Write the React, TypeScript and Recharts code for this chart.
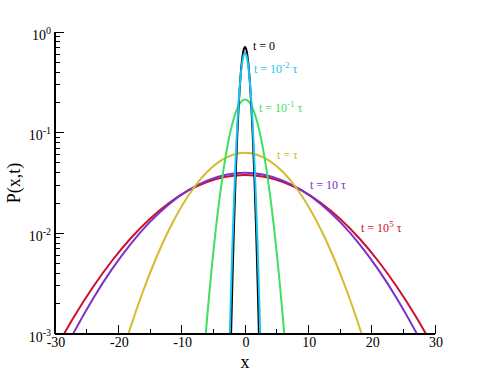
import React from 'react';
import { LineChart, Line, XAxis, YAxis, ReferenceDot, Label } from 'recharts';

// ---- data ----
const xT0 = [-2.25, -2, -1.75, -1.5, -1.25, -1, -0.75, -0.5, -0.25, 0, 0.25, 0.5, 0.75, 1, 1.25, 1.5, 1.75, 2, 2.25];
const pT0 = [0.000741, 0.00313, 0.01115, 0.0336, 0.0853, 0.183, 0.331, 0.506, 0.652, 0.71, 0.652, 0.506, 0.331, 0.183, 0.0853, 0.0336, 0.01115, 0.00313, 0.000741];

const xT2 = [-2.5, -2.25, -2, -1.75, -1.5, -1.25, -1, -0.75, -0.5, -0.25, 0, 0.25, 0.5, 0.75, 1, 1.25, 1.5, 1.75, 2, 2.25, 2.5];
const pT2 = [0.000579, 0.00218, 0.00713, 0.0203, 0.0503, 0.1084, 0.203, 0.331, 0.469, 0.578, 0.62, 0.578, 0.469, 0.331, 0.203, 0.1084, 0.0503, 0.0203, 0.00713, 0.00218, 0.000579];

const xT1 = [-6.5, -6, -5.5, -5, -4.5, -4, -3.5, -3, -2.5, -2, -1.5, -1, -0.5, 0, 0.5, 1, 1.5, 2, 2.5, 3, 3.5, 4, 4.5, 5, 5.5, 6, 6.5];
const pT1 = [0.000588, 0.001406, 0.003138, 0.00653, 0.01267, 0.02293, 0.0387, 0.0609, 0.0894, 0.1224, 0.1563, 0.1862, 0.2066, 0.214, 0.2066, 0.1862, 0.1563, 0.1224, 0.0894, 0.0609, 0.0387, 0.02293, 0.01267, 0.00653, 0.003138, 0.001406, 0.000588];

const xTau = [-20, -18, -16, -14, -12, -10, -8, -6, -4, -2, 0, 2, 4, 6, 8, 10, 12, 14, 16, 18, 20];
const pTau = [0.000477, 0.001206, 0.002767, 0.005755, 0.01086, 0.01858, 0.02884, 0.0406, 0.0518, 0.06, 0.063, 0.06, 0.0518, 0.0406, 0.02884, 0.01858, 0.01086, 0.005755, 0.002767, 0.001206, 0.000477];

const xT10 = [-30, -27, -24, -21, -18, -15, -12, -9, -6, -3, 0, 3, 6, 9, 12, 15, 18, 21, 24, 27, 30];
const pT10 = [0.000444, 0.001044, 0.002244, 0.004406, 0.00791, 0.01298, 0.01946, 0.02668, 0.0334, 0.03824, 0.04, 0.03824, 0.0334, 0.02668, 0.01946, 0.01298, 0.00791, 0.004406, 0.002244, 0.001044, 0.000444];

const xT5 = [-30, -27, -24, -21, -18, -15, -12, -9, -6, -3, 0, 3, 6, 9, 12, 15, 18, 21, 24, 27, 30];
const pT5 = [0.000692, 0.001482, 0.002928, 0.00534, 0.00899, 0.01396, 0.02003, 0.02651, 0.03238, 0.03652, 0.038, 0.03652, 0.03238, 0.02651, 0.02003, 0.01396, 0.00899, 0.00534, 0.002928, 0.001482, 0.000692];

// ---- ticks ----
const xMajorTicks = [-30, -20, -10, 0, 10, 20, 30];
const xMinorTicks = [-25, -15, -5, 5, 15, 25];
const xTickLabels = ['-30', '-20', '-10', '0', '10', '20', '30'];
const yMajorTicks = [0.001, 0.01, 0.1, 1];
const yMajorExponents = ['-3', '-2', '-1', '0'];
const yMinorTicks = [
  0.002, 0.003, 0.004, 0.005, 0.006, 0.007, 0.008, 0.009,
  0.02, 0.03, 0.04, 0.05, 0.06, 0.07, 0.08, 0.09,
  0.2, 0.3, 0.4, 0.5, 0.6, 0.7, 0.8, 0.9,
];

const xTicks = [...xMajorTicks, ...xMinorTicks].sort((a, b) => a - b);
const yTicks = [...yMajorTicks, ...yMinorTicks].sort((a, b) => a - b);

const zip = (xs: number[], ps: number[]) => xs.map((x, i) => ({ x, p: ps[i] }));

const FONT = 'Liberation Serif, Tinos, Times New Roman, DejaVu Serif, serif';
const MAJOR = 9;
const MINOR = 5;

const isXMajor = (v: number) => xMajorTicks.indexOf(v) >= 0;
const isYMajor = (v: number) => yMajorTicks.some((t) => Math.abs(t - v) < 1e-12);

const txt = { fontFamily: FONT };

const BottomTick = (props: any) => {
  const { x, y, payload } = props;
  const v = payload.value;
  const major = isXMajor(v);
  const idx = xMajorTicks.indexOf(v);
  return (
    <g>
      <line x1={x} x2={x} y1={y} y2={y - (major ? MAJOR : MINOR)} stroke="#000" strokeWidth={1} shapeRendering="crispEdges" />
      {major && (
        <text x={x + 1} y={y + 13} textAnchor="middle" style={txt} fontSize={14} fill="#000">
          {xTickLabels[idx]}
        </text>
      )}
    </g>
  );
};

const TopTick = (props: any) => {
  const { x, y, payload } = props;
  const major = isXMajor(payload.value);
  return <line x1={x} x2={x} y1={y} y2={y + (major ? MAJOR : 7)} stroke="#000" strokeWidth={1} shapeRendering="crispEdges" />;
};

const LeftTick = (props: any) => {
  const { x, y, payload } = props;
  const v = payload.value;
  const major = isYMajor(v);
  const idx = yMajorTicks.findIndex((t) => Math.abs(t - v) < 1e-12);
  return (
    <g>
      <line x1={x} x2={x + (major ? MAJOR : MINOR)} y1={y} y2={y} stroke="#000" strokeWidth={1} shapeRendering="crispEdges" />
      {major && (
        <text x={x - 4} y={y + 7.5} textAnchor="end" style={txt} fontSize={14} fill="#000">
          10
          <tspan dy={-6} fontSize={10}>{yMajorExponents[idx]}</tspan>
        </text>
      )}
    </g>
  );
};

const RightTick = (props: any) => {
  const { x, y, payload } = props;
  const major = isYMajor(payload.value);
  return <line x1={x - (major ? MAJOR : MINOR)} x2={x} y1={y} y2={y} stroke="#000" strokeWidth={1} shapeRendering="crispEdges" />;
};

const renderYTitle = (props: any) => {
  const vb = props.viewBox || props;
  const cx = vb.x + 14;
  const cy = vb.y + vb.height / 2;
  return (
    <text x={cx} y={cy} transform={`rotate(-90, ${cx}, ${cy})`} textAnchor="middle" dominantBaseline="central" style={txt} fontSize={18} fill="#000">
      P(x,t)
    </text>
  );
};

const renderXTitle = (props: any) => {
  const vb = props.viewBox || props;
  return (
    <text x={vb.x + vb.width / 2} y={vb.y + 34} textAnchor="middle" style={txt} fontSize={18} fill="#000">
      x
    </text>
  );
};

const ann = (color: string, base: string, sup?: string, tail?: string) => (props: any) => {
  const vb = props.viewBox || props;
  return (
    <text x={vb.x} y={vb.y} style={txt} fontSize={12} fill={color}>
      {base}
      {sup && <tspan dy={-5} fontSize={9}>{sup}</tspan>}
      {tail && <tspan dy={sup ? 5 : 0}>{'\u00a0' + tail}</tspan>}
    </text>
  );
};

const C_BLACK = '#000000';
const C_CYAN = '#18c4f6';
const C_GREEN = '#3fe060';
const C_YELLOW = '#d6bb2c';
const C_PURPLE = '#7a30cc';
const C_RED = '#cc0f2e';

const series = [
  { name: 't=1e5', data: zip(xT5, pT5), color: C_RED },
  { name: 't=10', data: zip(xT10, pT10), color: C_PURPLE },
  { name: 't=tau', data: zip(xTau, pTau), color: C_YELLOW },
  { name: 't=1e-1', data: zip(xT1, pT1), color: C_GREEN },
  { name: 't=0', data: zip(xT0, pT0), color: C_BLACK },
  { name: 't=1e-2', data: zip(xT2, pT2), color: C_CYAN },
];

export default function App() {
  return (
    <div style={{ position: 'absolute', left: 0, top: 0, width: 491, height: 379, background: '#fff', fontFamily: FONT }}>
      <LineChart width={491} height={379} margin={{ top: 32, right: 56, bottom: 0, left: 0 }} style={{ fontFamily: FONT }}>
        <XAxis
          xAxisId="b"
          type="number"
          dataKey="x"
          domain={[-30, 30]}
          ticks={xTicks}
          interval={0}
          allowDataOverflow
          height={45}
          tickSize={0}
          tickMargin={0}
          tickLine={false}
          axisLine={{ stroke: '#000', strokeWidth: 2 }}
          tick={(p: any) => <BottomTick {...p} />}
        >
          <Label content={renderXTitle} />
        </XAxis>
        <XAxis
          xAxisId="t"
          orientation="top"
          type="number"
          dataKey="x"
          domain={[-30, 30]}
          ticks={xTicks}
          interval={0}
          allowDataOverflow
          height={0}
          tickSize={0}
          tickMargin={0}
          tickLine={false}
          axisLine={{ stroke: '#000', strokeWidth: 2 }}
          tick={(p: any) => <TopTick {...p} />}
        />
        <YAxis
          yAxisId="l"
          type="number"
          scale="log"
          domain={[0.001, 1]}
          ticks={yTicks}
          interval={0}
          allowDataOverflow
          width={55}
          tickSize={0}
          tickMargin={0}
          tickLine={false}
          axisLine={{ stroke: '#000', strokeWidth: 2 }}
          tick={(p: any) => <LeftTick {...p} />}
        >
          <Label content={renderYTitle} />
        </YAxis>
        <YAxis
          yAxisId="r"
          orientation="right"
          type="number"
          scale="log"
          domain={[0.001, 1]}
          ticks={yTicks}
          interval={0}
          allowDataOverflow
          width={0}
          tickSize={0}
          tickMargin={0}
          tickLine={false}
          axisLine={{ stroke: '#000', strokeWidth: 2 }}
          tick={(p: any) => <RightTick {...p} />}
        />
        {series.map((s) => (
          <Line
            key={s.name}
            xAxisId="b"
            yAxisId="l"
            data={s.data}
            dataKey="p"
            type="monotone"
            stroke={s.color}
            strokeWidth={2}
            dot={false}
            activeDot={false}
            isAnimationActive={false}
          />
        ))}
        <ReferenceDot xAxisId="b" yAxisId="l" x={1.26} y={0.662} r={0} fill="none" stroke="none">
          <Label content={ann(C_BLACK, 't = 0')} />
        </ReferenceDot>
        <ReferenceDot xAxisId="b" yAxisId="l" x={1.42} y={0.392} r={0} fill="none" stroke="none">
          <Label content={ann(C_CYAN, 't = 10', '-2', 'τ')} />
        </ReferenceDot>
        <ReferenceDot xAxisId="b" yAxisId="l" x={2.21} y={0.16} r={0} fill="none" stroke="none">
          <Label content={ann(C_GREEN, 't = 10', '-1', 'τ')} />
        </ReferenceDot>
        <ReferenceDot xAxisId="b" yAxisId="l" x={5.05} y={0.0548} r={0} fill="none" stroke="none">
          <Label content={ann(C_YELLOW, 't = τ')} />
        </ReferenceDot>
        <ReferenceDot xAxisId="b" yAxisId="l" x={10.26} y={0.02756} r={0} fill="none" stroke="none">
          <Label content={ann(C_PURPLE, 't = 10', undefined, 'τ')} />
        </ReferenceDot>
        <ReferenceDot xAxisId="b" yAxisId="l" x={18.32} y={0.01031} r={0} fill="none" stroke="none">
          <Label content={ann(C_RED, 't = 10', '5', 'τ')} />
        </ReferenceDot>
      </LineChart>
    </div>
  );
}
